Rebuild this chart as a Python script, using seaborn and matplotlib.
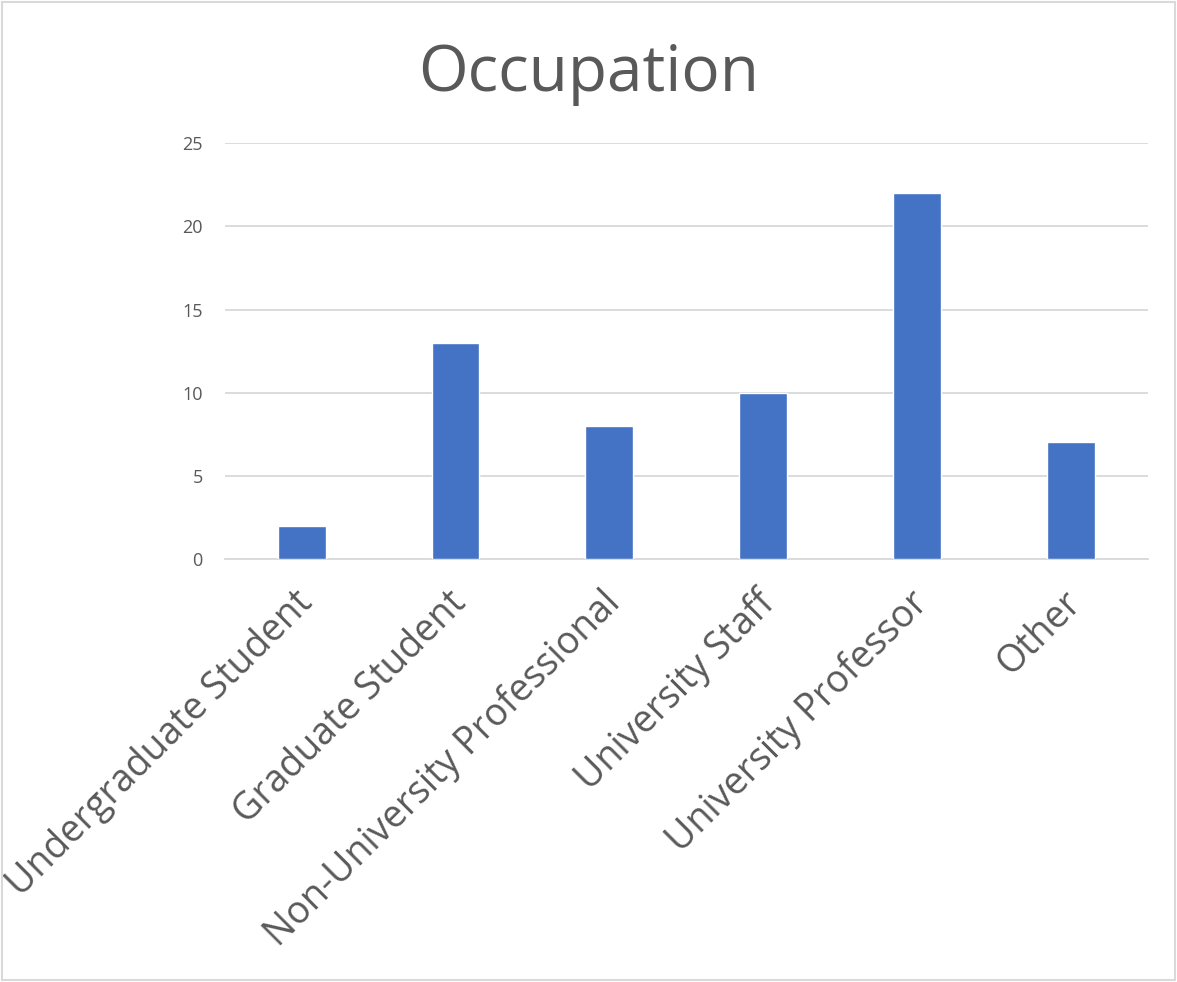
import matplotlib
matplotlib.use('Agg')
import matplotlib.pyplot as plt
import seaborn as sns
import pandas as pd
from matplotlib.patches import Rectangle
from matplotlib.transforms import ScaledTranslation

ocupaciones = ['Undergraduate Student', 'Graduate Student', 'Non-University Professional',
               'University Staff', 'University Professor', 'Other']
cuentas = [2, 13, 8, 10, 22, 7]
ticks_y = [0, 5, 10, 15, 20, 25]

df = pd.DataFrame({'Occupation': ocupaciones, 'Count': cuentas})

sns.set_style('white')
plt.rcParams['font.family'] = ['Open Sans', 'DejaVu Sans']

gris = '#595959'
fig = plt.figure(figsize=(11.77, 9.82), dpi=100)
ax = fig.add_axes([0.191, 0.431, 0.784, 0.423])

sns.barplot(data=df, x='Occupation', y='Count', color='#4472C4', width=0.31,
            saturation=1, ax=ax, zorder=3)

ax.set_xlim(-0.5, 5.5)
ax.set_ylim(0, 25)
ax.set_yticks(ticks_y)
ax.yaxis.grid(True, color='#d9d9d9', linewidth=1.3, zorder=0)
ax.set_axisbelow(True)
for s in ['top', 'right', 'left']:
    ax.spines[s].set_visible(False)
ax.spines['bottom'].set_color('#d9d9d9')
ax.spines['bottom'].set_linewidth(1.3)
ax.tick_params(axis='both', length=0)
ax.tick_params(axis='y', labelsize=13, labelcolor=gris, pad=16)
ax.set_xticks(range(len(ocupaciones)))
ax.set_xticklabels(ocupaciones, rotation=45, ha='right', rotation_mode='anchor',
                   fontsize=27, color=gris)
ax.tick_params(axis='x', pad=18)
desplaza = ScaledTranslation(-8 / 100, 0, fig.dpi_scale_trans)
for lab in ax.get_xticklabels():
    lab.set_transform(lab.get_transform() + desplaza)
ax.set_xlabel('')
ax.set_ylabel('')

fig.text(0.5, 0.925, 'Occupation', ha='center', va='center', fontsize=46, color=gris)

fig.patches.append(Rectangle((0.002, 0.002), 0.996, 0.996, transform=fig.transFigure,
                             fill=False, edgecolor='#d9d9d9', linewidth=1.5))

fig.savefig('out.png', dpi=100)
